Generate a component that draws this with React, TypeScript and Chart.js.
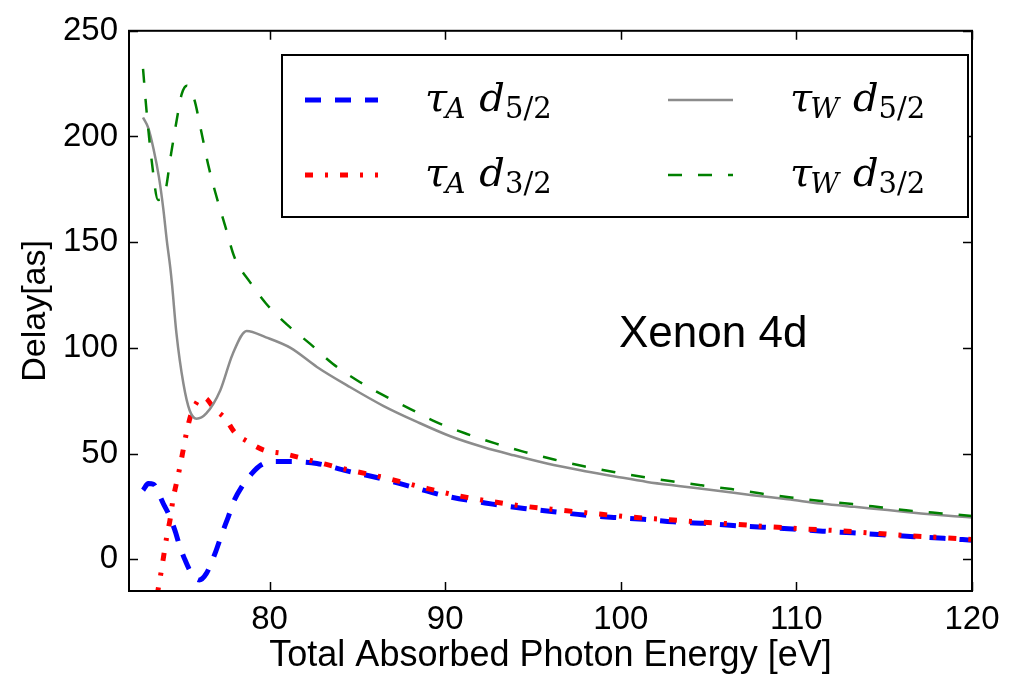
import React, { useEffect, useRef } from "react";
import { Chart, registerables } from "chart.js";

Chart.register(...registerables);

// ---- data ----
const xTicks = [80, 90, 100, 110, 120];
const yTicks = [0, 50, 100, 150, 200, 250];

// tau_A d5/2 (blue dashed)
const blueE = [72.8, 73.1, 73.4, 73.7, 73.95, 74.25, 74.6, 74.9, 75.2, 75.55, 76.0, 76.4, 76.9, 77.3, 77.65, 78.0, 78.4, 79.0, 79.5, 80.2, 81.0, 82.7, 84.4, 86.1, 88, 90, 92.7, 94.5, 96.2, 97.9, 99.6, 101.3, 103, 104.7, 106.4, 108.1, 109.8, 111.5, 113.2, 114.9, 116.7, 118.4, 120];
const blueV = [32.7, 35.8, 35.5, 31, 26.4, 21.5, 14, 6, -0.5, -6.5, -9.8, -6.8, 2.8, 12.3, 20, 28, 34, 40.6, 44.5, 46.3, 46.3, 45.3, 41.8, 38.7, 34.5, 30, 26.1, 24, 22.5, 20.9, 19.8, 18.9, 17.7, 17, 16, 15.2, 14.3, 13.3, 12.5, 11.6, 10.7, 9.9, 9];

// tau_A d3/2 (red dash-dot)
const redE = [73.6, 73.85, 74.15, 74.35, 74.5, 74.7, 74.9, 75.1, 75.3, 75.55, 75.8, 76.1, 76.4, 76.7, 77.1, 77.5, 78.0, 78.8, 79.7, 80.8, 82.7, 84.6, 86.5, 88.5, 90.5, 92.5, 94.5, 96.5, 98.4, 100.4, 102.4, 104.4, 106.4, 108.4, 110.4, 112.4, 114.5, 116.5, 118.5, 120];
const redV = [-17, -5, 10.7, 19.3, 28, 36, 43.7, 52.4, 61, 69, 73.5, 76.5, 76, 73, 69.5, 66.5, 60.2, 55.5, 51.6, 50, 46, 42.1, 38.7, 34.5, 30.5, 27.5, 25.1, 23.3, 21.7, 20.1, 18.9, 17.7, 16.7, 15.4, 14.4, 13.5, 12.3, 11.1, 10.2, 9.4];

// tau_W d5/2 (gray solid)
const grayE = [72.8, 73.1, 73.4, 73.7, 73.95, 74.15, 74.35, 74.45, 74.7, 75.1, 75.45, 75.85, 76.4, 77.2, 77.9, 78.7, 79.8, 81.2, 82.7, 84.6, 86.5, 88.4, 90.3, 92.2, 93.9, 95.8, 97.7, 99.6, 101.5, 103.4, 105.3, 107.5, 109.5, 111.4, 113.3, 115.2, 117.1, 119, 120];
const grayV = [209, 204, 194, 181, 166, 151, 138, 130, 107, 83, 70.5, 66.5, 69, 80, 97, 108, 105, 100, 91, 81.4, 72.5, 65, 58.2, 53, 49.2, 45.3, 42.1, 39.3, 36.6, 34.6, 32.7, 30.3, 28.4, 26.4, 24.8, 23.3, 21.7, 20.4, 19.8];

// tau_W d3/2 (green dashed)
const greenE = [72.8, 73.0, 73.3, 73.65, 74.0, 74.4, 74.7, 75.0, 75.3, 75.7, 76.1, 76.5, 76.9, 77.5, 78.0, 78.9, 79.8, 81.0, 82.3, 83.6, 85.0, 86.5, 88.0, 89.5, 91.2, 92.9, 94.5, 96.2, 97.9, 99.6, 101.2, 102.9, 104.6, 106.3, 108.0, 109.7, 111.4, 113.2, 114.9, 116.6, 118.3, 120];
const greenV = [232, 212, 188, 170, 172, 192, 207, 220, 224, 218, 203, 187, 174, 157, 143, 131, 121, 111, 102, 92.5, 84.6, 77.5, 71.2, 64.9, 59.4, 54.7, 50.8, 47.2, 44, 41.3, 39, 36.9, 35, 33.2, 31.1, 29.2, 27.6, 26.1, 24.5, 22.9, 21.7, 20.5];

const legendLabels = [
  { sym: "τ", sub: "A", frac: "5/2" },
  { sym: "τ", sub: "A", frac: "3/2" },
  { sym: "τ", sub: "W", frac: "5/2" },
  { sym: "τ", sub: "W", frac: "3/2" },
];
const annotation = "Xenon 4d";

const pts = (xs: number[], ys: number[]) => xs.map((x, i) => ({ x, y: ys[i] }));

const SANS = '"Liberation Sans", Arial, sans-serif';
const SERIF = '"DejaVu Serif", "Liberation Serif", serif';

const styles = [
  { color: "#0000ff", width: 5, dash: [16, 14] },
  { color: "#ff0000", width: 5, dash: [8, 12, 3, 12] },
  { color: "#8c8c8c", width: 2.5, dash: [] as number[] },
  { color: "#008000", width: 2.5, dash: [14, 16] },
];

const framePlugin = {
  id: "frameAndLegend",
  afterDraw(chart: any) {
    const ctx = chart.ctx as CanvasRenderingContext2D;
    const ca = chart.chartArea;
    const xs = chart.scales.x;
    const ys = chart.scales.y;
    ctx.save();
    // annotation
    ctx.fillStyle = "#000";
    ctx.font = `44px ${SANS}`;
    ctx.textBaseline = "alphabetic";
    ctx.textAlign = "left";
    ctx.fillText(annotation, xs.getPixelForValue(99.9), ys.getPixelForValue(100.5));

    // frame
    ctx.strokeStyle = "#000";
    ctx.lineWidth = 2;
    ctx.setLineDash([]);
    ctx.strokeRect(ca.left, ca.top, ca.right - ca.left, ca.bottom - ca.top);
    const tl = 9;
    ctx.lineWidth = 1.5;
    ctx.beginPath();
    xTicks.forEach((v) => {
      const p = Math.round(xs.getPixelForValue(v)) + 0.5;
      ctx.moveTo(p, ca.bottom);
      ctx.lineTo(p, ca.bottom - tl);
      ctx.moveTo(p, ca.top);
      ctx.lineTo(p, ca.top + tl);
    });
    yTicks.forEach((v) => {
      const p = Math.round(ys.getPixelForValue(v)) + 0.5;
      ctx.moveTo(ca.left, p);
      ctx.lineTo(ca.left + tl, p);
      ctx.moveTo(ca.right, p);
      ctx.lineTo(ca.right - tl, p);
    });
    ctx.stroke();

    // legend
    const lx = 282, ly = 55, lw = 686, lh = 162;
    ctx.fillStyle = "#fff";
    ctx.fillRect(lx, ly, lw, lh);
    ctx.lineWidth = 2;
    ctx.strokeStyle = "#000";
    ctx.strokeRect(lx, ly, lw, lh);

    const rows = [100, 175];
    const cols = [
      { sx: 305, ex: 378, tx: 425 },
      { sx: 668, ex: 733, tx: 790 },
    ];
    legendLabels.forEach((lab, i) => {
      const col = cols[Math.floor(i / 2)];
      const ry = rows[i % 2];
      const st = styles[i];
      ctx.beginPath();
      ctx.strokeStyle = st.color;
      ctx.lineWidth = st.width;
      ctx.setLineDash(st.dash);
      ctx.moveTo(col.sx, ry);
      ctx.lineTo(col.ex, ry);
      ctx.stroke();
      ctx.setLineDash([]);
      // text
      const base = ry + 11;
      let x = col.tx;
      ctx.fillStyle = "#000";
      ctx.font = `italic 40px ${SERIF}`;
      ctx.fillText(lab.sym, x, base);
      x += ctx.measureText(lab.sym).width - 2;
      ctx.font = `italic 28px ${SERIF}`;
      ctx.fillText(lab.sub, x, base + 7);
      x += ctx.measureText(lab.sub).width + 14;
      ctx.font = `italic 40px ${SERIF}`;
      ctx.fillText("d", x, base);
      x += ctx.measureText("d").width;
      ctx.font = `29px ${SERIF}`;
      ctx.fillText(lab.frac, x, base + 7);
    });
    ctx.restore();
  },
};

export default function App() {
  const ref = useRef<HTMLCanvasElement | null>(null);
  useEffect(() => {
    document.body.style.margin = "0";
    const canvas = ref.current!;
    const mk = (label: string, xs: number[], ys: number[], i: number, order: number) => ({
      label,
      data: pts(xs, ys),
      borderColor: styles[i].color,
      backgroundColor: styles[i].color,
      borderWidth: styles[i].width,
      borderDash: styles[i].dash,
      borderCapStyle: "butt" as const,
      pointRadius: 0,
      fill: false,
      cubicInterpolationMode: "monotone" as const,
      order,
    });
    const chart = new Chart(canvas, {
      type: "line",
      data: {
        datasets: [
          mk("tauA d5/2", blueE, blueV, 0, 4),
          mk("tauA d3/2", redE, redV, 1, 3),
          mk("tauW d5/2", grayE, grayV, 2, 2),
          mk("tauW d3/2", greenE, greenV, 3, 1),
        ],
      },
      options: {
        animation: false,
        responsive: false,
        maintainAspectRatio: false,
        layout: { padding: { left: 6, right: 46, top: 29, bottom: 0 } },
        plugins: { legend: { display: false }, tooltip: { enabled: false } },
        scales: {
          x: {
            type: "linear",
            min: 72,
            max: 120,
            grid: { display: false, drawTicks: false },
            border: { display: false },
            afterBuildTicks: (s: any) => {
              s.ticks = xTicks.map((v) => ({ value: v }));
            },
            afterFit: (s: any) => {
              s.height = 87;
            },
            ticks: {
              color: "#000",
              padding: 9,
              maxRotation: 0,
              font: { family: SANS, size: 33 },
            },
            title: {
              display: true,
              text: "Total Absorbed Photon Energy [eV]",
              color: "#000",
              font: { family: SANS, size: 36 },
              padding: { top: 0, bottom: 0 },
            },
          },
          y: {
            type: "linear",
            min: -15,
            max: 250,
            grid: { display: false, drawTicks: false },
            border: { display: false },
            afterBuildTicks: (s: any) => {
              s.ticks = yTicks.map((v) => ({ value: v }));
            },
            afterFit: (s: any) => {
              s.width = 123;
            },
            ticks: {
              color: "#000",
              padding: 11,
              font: { family: SANS, size: 33 },
            },
            title: {
              display: true,
              text: "Delay[as]",
              color: "#000",
              font: { family: SANS, size: 34 },
              padding: { top: 9, bottom: 0 },
            },
          },
        },
      },
      plugins: [framePlugin],
    });
    return () => chart.destroy();
  }, []);
  return (
    <div style={{ position: "absolute", left: 0, top: 0, width: 1018, height: 678 }}>
      <canvas ref={ref} width={1018} height={678} style={{ display: "block", width: 1018, height: 678 }} />
    </div>
  );
}
